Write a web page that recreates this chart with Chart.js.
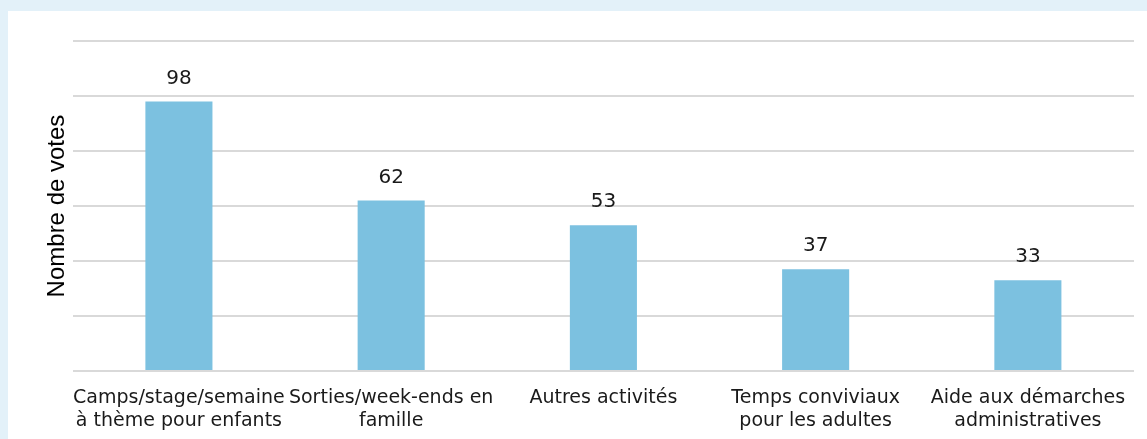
<!DOCTYPE html>
<html>
<head>
<meta charset="utf-8">
<script src="https://cdn.jsdelivr.net/npm/chart.js@4/dist/chart.umd.min.js"></script>
<style>
  html, body { margin: 0; padding: 0; }
  body { width: 1147px; height: 439px; background: #e3f1f9; overflow: hidden; position: relative; }
  #panel { position: absolute; left: 8px; top: 11px; width: 1139px; height: 428px; background: #ffffff; overflow: hidden; }
  #c { display: block; }
</style>
</head>
<body>
<div id="panel"><canvas id="c" width="1139" height="438"></canvas></div>
<script>
const categories = [
  ["Camps/stage/semaine", "à thème pour enfants"],
  ["Sorties/week-ends en", "famille"],
  ["Autres activités"],
  ["Temps conviviaux", "pour les adultes"],
  ["Aide aux démarches", "administratives"]
];
const votes = [98, 62, 53, 37, 33];
const yTicks = [0, 20, 40, 60, 80, 100, 120];
const yTitle = "Nombre de votes";

const valueLabels = {
  id: 'valueLabels',
  afterDatasetsDraw(chart) {
    const ctx = chart.ctx;
    const meta = chart.getDatasetMeta(0);
    ctx.save();
    ctx.font = '20px "DejaVu Sans", Verdana, sans-serif';
    ctx.fillStyle = '#1a1a1a';
    ctx.textAlign = 'center';
    ctx.textBaseline = 'bottom';
    meta.data.forEach((bar, i) => {
      ctx.fillText(String(votes[i]), bar.x, bar.y - 13);
    });
    ctx.restore();
  }
};

new Chart(document.getElementById('c'), {
  type: 'bar',
  data: {
    labels: categories,
    datasets: [{
      data: votes,
      backgroundColor: '#7cc1e0',
      borderWidth: 0,
      categoryPercentage: 1,
      barPercentage: 0.316
    }]
  },
  options: {
    responsive: false,
    animation: false,
    layout: { padding: { left: 0, right: 13, top: 30, bottom: 0 } },
    plugins: { legend: { display: false }, tooltip: { enabled: false } },
    scales: {
      x: {
        grid: { display: false, drawTicks: false },
        border: { display: false },
        ticks: {
          color: '#1a1a1a',
          font: { family: '"DejaVu Sans", Verdana, sans-serif', size: 19, lineHeight: 1.21 },
          padding: 16,
          maxRotation: 0,
          minRotation: 0,
          autoSkip: false
        }
      },
      y: {
        min: yTicks[0],
        max: yTicks[yTicks.length - 1],
        afterBuildTicks(axis) { axis.ticks = yTicks.map(v => ({ value: v })); },
        ticks: { display: false },
        grid: { color: '#d9d9d9', lineWidth: 2, drawTicks: false },
        border: { display: false },
        title: {
          display: true,
          text: yTitle,
          color: '#000000',
          font: { family: '"Liberation Sans", Arial, sans-serif', size: 24, lineHeight: 1.2 },
          padding: { top: 35, bottom: 1 }
        }
      }
    }
  },
  plugins: [valueLabels]
});
</script>
</body>
</html>
